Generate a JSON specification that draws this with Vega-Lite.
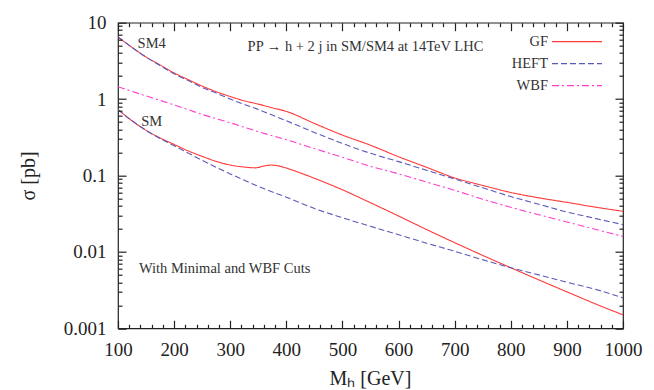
{
  "$schema": "https://vega.github.io/schema/vega-lite/v6.json",
  "autosize": "none",
  "width": 505,
  "height": 305.6,
  "padding": {"left": 118, "top": 22.7, "right": 31, "bottom": 62},
  "background": "white",
  "config": {
    "font": "Liberation Serif",
    "view": {"stroke": "#222", "strokeWidth": 1.2},
    "axis": {"zindex": 2, "domain": false, "grid": false, "labelColor": "#222", "titleColor": "#222", "labelFont": "Liberation Serif", "titleFont": "Liberation Serif", "labelFontSize": 19, "titleFontSize": 20, "titleFontWeight": "normal", "tickCount": 1000, "labelFlush": false, "labelOverlap": false}
  },
  "datasets": {
    "curves": [
      {"m":100,"s":6.5,"p":"GF","c":"SM4"},{"m":125,"s":4.75,"p":"GF","c":"SM4"},{"m":150,"s":3.55,"p":"GF","c":"SM4"},{"m":175,"s":2.8,"p":"GF","c":"SM4"},{"m":200,"s":2.2,"p":"GF","c":"SM4"},{"m":225,"s":1.8,"p":"GF","c":"SM4"},{"m":250,"s":1.48,"p":"GF","c":"SM4"},{"m":275,"s":1.25,"p":"GF","c":"SM4"},{"m":300,"s":1.08,"p":"GF","c":"SM4"},{"m":325,"s":0.95,"p":"GF","c":"SM4"},{"m":350,"s":0.86,"p":"GF","c":"SM4"},{"m":375,"s":0.77,"p":"GF","c":"SM4"},{"m":400,"s":0.69,"p":"GF","c":"SM4"},{"m":450,"s":0.48,"p":"GF","c":"SM4"},{"m":500,"s":0.338,"p":"GF","c":"SM4"},{"m":550,"s":0.249,"p":"GF","c":"SM4"},{"m":600,"s":0.176,"p":"GF","c":"SM4"},{"m":650,"s":0.128,"p":"GF","c":"SM4"},{"m":700,"s":0.093,"p":"GF","c":"SM4"},{"m":750,"s":0.074,"p":"GF","c":"SM4"},{"m":800,"s":0.06,"p":"GF","c":"SM4"},{"m":850,"s":0.051,"p":"GF","c":"SM4"},{"m":900,"s":0.0445,"p":"GF","c":"SM4"},{"m":950,"s":0.0386,"p":"GF","c":"SM4"},{"m":1000,"s":0.034,"p":"GF","c":"SM4"},
      {"m":100,"s":6.5,"p":"HEFT","c":"SM4"},{"m":125,"s":4.75,"p":"HEFT","c":"SM4"},{"m":150,"s":3.55,"p":"HEFT","c":"SM4"},{"m":175,"s":2.75,"p":"HEFT","c":"SM4"},{"m":200,"s":2.15,"p":"HEFT","c":"SM4"},{"m":225,"s":1.75,"p":"HEFT","c":"SM4"},{"m":250,"s":1.42,"p":"HEFT","c":"SM4"},{"m":275,"s":1.2,"p":"HEFT","c":"SM4"},{"m":300,"s":1.0,"p":"HEFT","c":"SM4"},{"m":350,"s":0.73,"p":"HEFT","c":"SM4"},{"m":400,"s":0.52,"p":"HEFT","c":"SM4"},{"m":450,"s":0.366,"p":"HEFT","c":"SM4"},{"m":500,"s":0.263,"p":"HEFT","c":"SM4"},{"m":550,"s":0.195,"p":"HEFT","c":"SM4"},{"m":600,"s":0.152,"p":"HEFT","c":"SM4"},{"m":650,"s":0.117,"p":"HEFT","c":"SM4"},{"m":700,"s":0.09,"p":"HEFT","c":"SM4"},{"m":750,"s":0.069,"p":"HEFT","c":"SM4"},{"m":800,"s":0.053,"p":"HEFT","c":"SM4"},{"m":850,"s":0.042,"p":"HEFT","c":"SM4"},{"m":900,"s":0.0333,"p":"HEFT","c":"SM4"},{"m":950,"s":0.0275,"p":"HEFT","c":"SM4"},{"m":1000,"s":0.0227,"p":"HEFT","c":"SM4"},
      {"m":100,"s":1.45,"p":"WBF","c":"SM"},{"m":150,"s":1.1,"p":"WBF","c":"SM"},{"m":200,"s":0.84,"p":"WBF","c":"SM"},{"m":250,"s":0.63,"p":"WBF","c":"SM"},{"m":300,"s":0.49,"p":"WBF","c":"SM"},{"m":350,"s":0.375,"p":"WBF","c":"SM"},{"m":400,"s":0.294,"p":"WBF","c":"SM"},{"m":450,"s":0.225,"p":"WBF","c":"SM"},{"m":500,"s":0.173,"p":"WBF","c":"SM"},{"m":550,"s":0.132,"p":"WBF","c":"SM"},{"m":600,"s":0.105,"p":"WBF","c":"SM"},{"m":650,"s":0.082,"p":"WBF","c":"SM"},{"m":700,"s":0.064,"p":"WBF","c":"SM"},{"m":750,"s":0.049,"p":"WBF","c":"SM"},{"m":800,"s":0.0384,"p":"WBF","c":"SM"},{"m":850,"s":0.0306,"p":"WBF","c":"SM"},{"m":900,"s":0.0246,"p":"WBF","c":"SM"},{"m":950,"s":0.0198,"p":"WBF","c":"SM"},{"m":1000,"s":0.016,"p":"WBF","c":"SM"},
      {"m":100,"s":0.73,"p":"GF","c":"SM"},{"m":125,"s":0.52,"p":"GF","c":"SM"},{"m":150,"s":0.39,"p":"GF","c":"SM"},{"m":175,"s":0.31,"p":"GF","c":"SM"},{"m":200,"s":0.255,"p":"GF","c":"SM"},{"m":225,"s":0.21,"p":"GF","c":"SM"},{"m":250,"s":0.178,"p":"GF","c":"SM"},{"m":275,"s":0.153,"p":"GF","c":"SM"},{"m":300,"s":0.137,"p":"GF","c":"SM"},{"m":325,"s":0.129,"p":"GF","c":"SM"},{"m":345,"s":0.126,"p":"GF","c":"SM"},{"m":360,"s":0.133,"p":"GF","c":"SM"},{"m":372,"s":0.137,"p":"GF","c":"SM"},{"m":385,"s":0.134,"p":"GF","c":"SM"},{"m":400,"s":0.125,"p":"GF","c":"SM"},{"m":425,"s":0.108,"p":"GF","c":"SM"},{"m":450,"s":0.092,"p":"GF","c":"SM"},{"m":500,"s":0.065,"p":"GF","c":"SM"},{"m":550,"s":0.044,"p":"GF","c":"SM"},{"m":600,"s":0.0295,"p":"GF","c":"SM"},{"m":650,"s":0.0196,"p":"GF","c":"SM"},{"m":700,"s":0.0132,"p":"GF","c":"SM"},{"m":750,"s":0.009,"p":"GF","c":"SM"},{"m":800,"s":0.0062,"p":"GF","c":"SM"},{"m":850,"s":0.0043,"p":"GF","c":"SM"},{"m":900,"s":0.003,"p":"GF","c":"SM"},{"m":950,"s":0.0021,"p":"GF","c":"SM"},{"m":1000,"s":0.0015,"p":"GF","c":"SM"},
      {"m":100,"s":0.73,"p":"HEFT","c":"SM"},{"m":125,"s":0.52,"p":"HEFT","c":"SM"},{"m":150,"s":0.39,"p":"HEFT","c":"SM"},{"m":175,"s":0.305,"p":"HEFT","c":"SM"},{"m":200,"s":0.245,"p":"HEFT","c":"SM"},{"m":250,"s":0.158,"p":"HEFT","c":"SM"},{"m":300,"s":0.105,"p":"HEFT","c":"SM"},{"m":350,"s":0.072,"p":"HEFT","c":"SM"},{"m":400,"s":0.052,"p":"HEFT","c":"SM"},{"m":450,"s":0.037,"p":"HEFT","c":"SM"},{"m":500,"s":0.028,"p":"HEFT","c":"SM"},{"m":550,"s":0.0216,"p":"HEFT","c":"SM"},{"m":600,"s":0.0168,"p":"HEFT","c":"SM"},{"m":650,"s":0.013,"p":"HEFT","c":"SM"},{"m":700,"s":0.0102,"p":"HEFT","c":"SM"},{"m":750,"s":0.0079,"p":"HEFT","c":"SM"},{"m":800,"s":0.0062,"p":"HEFT","c":"SM"},{"m":850,"s":0.005,"p":"HEFT","c":"SM"},{"m":900,"s":0.004,"p":"HEFT","c":"SM"},{"m":950,"s":0.00325,"p":"HEFT","c":"SM"},{"m":1000,"s":0.0025,"p":"HEFT","c":"SM"}
    ],
    "labels": [
      {"m":160,"s":5.2,"t":"SM4"},
      {"m":160,"s":0.506,"t":"SM"},
      {"m":541,"s":4.85,"t":"PP → h + 2 j in SM/SM4 at 14TeV LHC"},
      {"m":290,"s":0.006,"t":"With Minimal and WBF Cuts"}
    ]
  },
  "resolve": {"axis": {"x": "independent", "y": "independent"}},
  "layer": [
    {
      "data": {"name": "curves"},
      "mark": {"type": "line", "strokeWidth": 1.1, "interpolate": "monotone", "clip": true},
      "encoding": {
        "x": {"field": "m", "type": "quantitative",
          "scale": {"domain": [100, 1000], "nice": false, "zero": false},
          "axis": {"orient": "bottom", "zindex": 2, "offset": -8, "ticks": true, "tickSize": 8, "tickColor": "#222", "tickWidth": 1.2, "labelPadding": 12,
            "values": [100,200,300,400,500,600,700,800,900,1000], "format": "d",
            "title": "Mₕ [GeV]", "titleX": 252, "titleY": 58, "titleAnchor": "middle", "titleAlign": "center", "titleBaseline": "middle"}},
        "y": {"field": "s", "type": "quantitative",
          "scale": {"type": "log", "domain": [0.001, 10], "nice": false},
          "axis": {"orient": "left", "zindex": 2, "offset": -8, "ticks": true, "tickSize": 8, "tickColor": "#222", "tickWidth": 1.2, "labelPadding": 12,
            "values": [0.001, 0.01, 0.1, 1, 10], "format": "~g",
            "title": "σ [pb]", "titleX": -98, "titleY": 152.8, "titleAngle": -90, "titleAlign": "center", "titleBaseline": "middle"}},
        "color": {"field": "p", "type": "nominal",
          "scale": {"domain": ["GF", "HEFT", "WBF"], "range": ["#ff3838", "#5a5ab8", "#ff3ccc"]},
          "legend": {"orient": "none", "legendX": 433, "legendY": 9, "title": null, "symbolType": "stroke", "symbolSize": 2500, "symbolStrokeWidth": 1.2, "labelAlign": "right", "labelOffset": -55, "labelFontSize": 14.5, "labelFont": "Liberation Serif", "labelColor": "#333", "rowPadding": 5,
            "encode": {"symbols": {"update": {"y": {"value": 10}}}, "labels": {"update": {"y": {"value": 10}}}}}},
        "strokeDash": {"field": "p", "type": "nominal",
          "scale": {"domain": ["GF", "HEFT", "WBF"], "range": [[1, 0], [6, 3], [7, 3, 2, 3]]},
          "legend": null},
        "detail": {"field": "c"}
      }
    },
    {
      "data": {"name": "labels"},
      "transform": [{"filter": "datum.t == 'SM4' || datum.t == 'SM'"}],
      "mark": {"type": "text", "fontSize": 14.5, "font": "Liberation Serif", "color": "#333", "align": "center", "baseline": "middle"},
      "encoding": {
        "x": {"field": "m", "type": "quantitative",
          "axis": {"orient": "top", "zindex": 2, "offset": -8, "ticks": true, "tickSize": 8, "tickColor": "#222", "tickWidth": 1.2, "labels": false, "title": null,
            "values": [100,200,300,400,500,600,700,800,900,1000]}},
        "y": {"field": "s", "type": "quantitative",
          "axis": {"orient": "right", "zindex": 2, "offset": -8, "ticks": true, "tickSize": 8, "tickColor": "#222", "tickWidth": 1.2, "labels": false, "title": null,
            "values": [0.001, 0.01, 0.1, 1, 10]}},
        "text": {"field": "t"}
      }
    },
    {
      "data": {"name": "labels"},
      "transform": [{"filter": "datum.t == 'PP → h + 2 j in SM/SM4 at 14TeV LHC'"}],
      "mark": {"type": "text", "fontSize": 14.5, "font": "Liberation Serif", "color": "#333", "align": "center", "baseline": "middle"},
      "encoding": {
        "x": {"field": "m", "type": "quantitative",
          "axis": {"orient": "bottom", "zindex": 2, "offset": -4, "ticks": true, "tickSize": 4, "tickColor": "#222", "tickWidth": 1.2, "labels": false, "title": null,
            "values": [120,140,160,180,220,240,260,280,320,340,360,380,420,440,460,480,520,540,560,580,620,640,660,680,720,740,760,780,820,840,860,880,920,940,960,980]}},
        "y": {"field": "s", "type": "quantitative",
          "axis": {"orient": "left", "zindex": 2, "offset": -4, "ticks": true, "tickSize": 4, "tickColor": "#222", "tickWidth": 1.2, "labels": false, "title": null,
            "values": [0.002,0.003,0.004,0.005,0.006,0.007,0.008,0.009,0.02,0.03,0.04,0.05,0.06,0.07,0.08,0.09,0.2,0.3,0.4,0.5,0.6,0.7,0.8,0.9,2,3,4,5,6,7,8,9]}},
        "text": {"field": "t"}
      }
    },
    {
      "data": {"name": "labels"},
      "transform": [{"filter": "datum.t == 'With Minimal and WBF Cuts'"}],
      "mark": {"type": "text", "fontSize": 14.5, "font": "Liberation Serif", "color": "#333", "align": "center", "baseline": "middle"},
      "encoding": {
        "x": {"field": "m", "type": "quantitative",
          "axis": {"orient": "top", "zindex": 2, "offset": -4, "ticks": true, "tickSize": 4, "tickColor": "#222", "tickWidth": 1.2, "labels": false, "title": null,
            "values": [120,140,160,180,220,240,260,280,320,340,360,380,420,440,460,480,520,540,560,580,620,640,660,680,720,740,760,780,820,840,860,880,920,940,960,980]}},
        "y": {"field": "s", "type": "quantitative",
          "axis": {"orient": "right", "zindex": 2, "offset": -4, "ticks": true, "tickSize": 4, "tickColor": "#222", "tickWidth": 1.2, "labels": false, "title": null,
            "values": [0.002,0.003,0.004,0.005,0.006,0.007,0.008,0.009,0.02,0.03,0.04,0.05,0.06,0.07,0.08,0.09,0.2,0.3,0.4,0.5,0.6,0.7,0.8,0.9,2,3,4,5,6,7,8,9]}},
        "text": {"field": "t"}
      }
    }
  ]
}
